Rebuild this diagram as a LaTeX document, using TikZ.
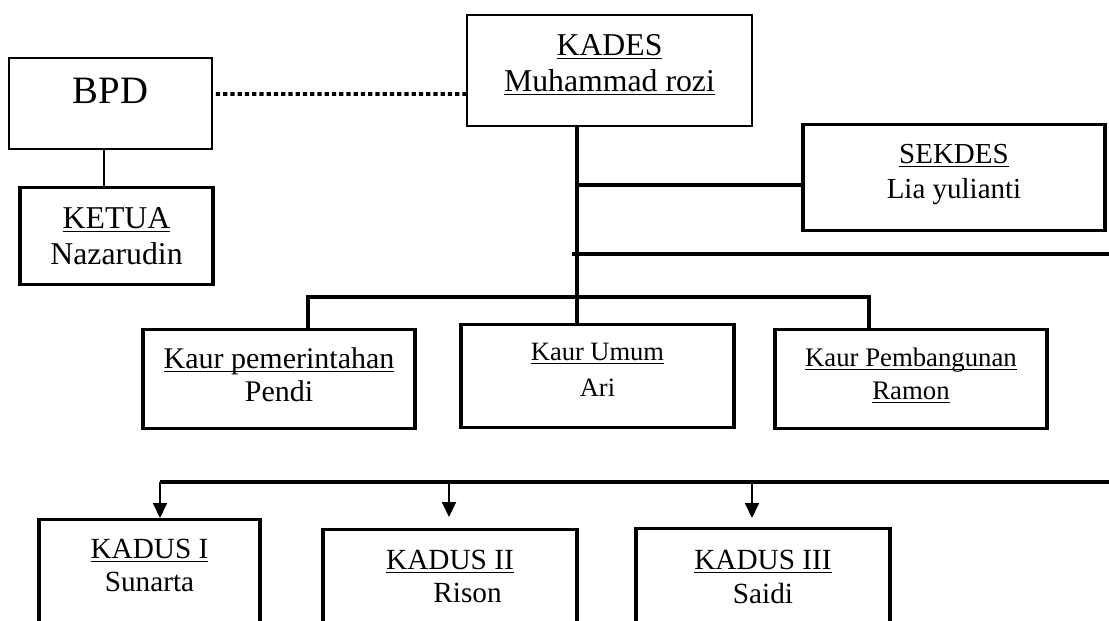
\documentclass[tikz,border=0pt]{standalone}
\usepackage{fontspec}
\setmainfont{Liberation Serif}
\usetikzlibrary{arrows.meta,calc}

\newcommand{\orgul}[1]{\setbox0=\hbox{#1}\rlap{\rule[-1.3pt]{\wd0}{0.45pt}}\box0}
\newcommand{\orgtext}[2]{\begin{tabular}[t]{@{}c@{}}#1\\#2\end{tabular}}

\tikzset{
	box/.style={draw, anchor=north, inner sep=0pt, line width=1.3pt},
	thinbox/.style={box, line width=0.7pt},
	trunk/.style={line width=1.7pt},
	link/.style={line width=0.7pt},
	down/.style={line width=0.8pt, -{Triangle[length=6pt,width=5.6pt]}},
	dots/.style={line width=1.5pt, dash pattern=on 1.7pt off 1.2pt}
}

\begin{document}
\begin{tikzpicture}[x=0.4pt,y=-0.4pt]
	\useasboundingbox (0,0) rectangle (1109,621);
	\clip (0,0) rectangle (1109,621);
	% boxes
	\node[thinbox, minimum width=81.2pt, text height=18.4pt, text depth=18pt,
		font={\fontsize{15.5}{18}\selectfont}] (bpd) at (110.5,57) {BPD};
	\node[box, minimum width=77.2pt, text height=16.4pt, text depth=22.4pt,
		font={\fontsize{12.7}{14.4}\selectfont}] (ketua) at (116.5,186)
		{\orgtext{\orgul{KETUA}}{Nazarudin}};
	\node[thinbox, minimum width=114pt, text height=16.4pt, text depth=28pt,
		font={\fontsize{12.7}{14.4}\selectfont}] (kades) at (609.5,14)
		{\orgtext{\orgul{KADES}}{\orgul{Muhammad rozi}}};
	\node[box, minimum width=120.8pt, text height=15.6pt, text depth=26.8pt,
		font={\fontsize{11.6}{14}\selectfont}] (sekdes) at (954,123)
		{\orgtext{\orgul{SEKDES}}{Lia yulianti}};
	\node[box, minimum width=108.8pt, text height=15.6pt, text depth=24pt,
		font={\fontsize{12}{13.2}\selectfont}] (kpem) at (279,328)
		{\orgtext{\orgul{Kaur pemerintahan}}{Pendi}};
	\node[box, minimum width=109.2pt, text height=14.4pt, text depth=26.8pt,
		font={\fontsize{10.6}{14.4}\selectfont}] (kumum) at (597.5,323)
		{\orgtext{\orgul{Kaur Umum}}{Ari}};
	\node[box, minimum width=108.8pt, text height=14.8pt, text depth=24.8pt,
		font={\fontsize{10.7}{13.2}\selectfont}] (kpemb) at (911,328)
		{\orgtext{\orgul{Kaur Pembangunan}}{\orgul{Ramon}}};
	\node[box, minimum width=88.4pt, text height=15.6pt, text depth=40pt,
		font={\fontsize{11.7}{13.2}\selectfont}] (kadus1) at (149.5,518)
		{\orgtext{\orgul{KADUS I}}{Sunarta}};
	\node[box, minimum width=101.6pt, text height=16pt, text depth=36pt,
		font={\fontsize{11.7}{13}\selectfont}] (kadus2) at (450,528)
		{\orgtext{\orgul{KADUS II}}{\hspace*{14pt}Rison}};
	\node[box, minimum width=101.6pt, text height=16.4pt, text depth=36pt,
		font={\fontsize{11.7}{13.6}\selectfont}] (kadus3) at (763,527)
		{\orgtext{\orgul{KADUS III}}{Saidi}};

	% junctions
	\coordinate (tr) at ([xshift=-13pt]kades.south);
	\coordinate (jsek) at (577,185);
	\coordinate (jmid) at (572,254);
	\coordinate (jmidend) at (1112,254);
	\coordinate (kbarl) at (308,297);
	\coordinate (kbarr) at (869,297);
	\coordinate (dbar1) at (160,482);
	\coordinate (dbar2) at (449,482);
	\coordinate (dbar3) at (752,482);
	\coordinate (dbarend) at (1112,482);

	% lines
	\draw[dots] ([shift={(1.2pt,3.8pt)}]bpd.east) -- ($(bpd.east -| kades.west)+(0,-9.5)$);
	\draw[link] ([xshift=-2.6pt]bpd.south) -- ($(bpd.south |- ketua.north)+(-6.5,0)$);
	\draw[trunk] (tr) -- (tr |- kumum.north);
	\draw[trunk] (jsek) -- (jsek -| sekdes.west);
	\draw[trunk] (jmid) -- (jmidend);
	\draw[trunk] (kbarl |- kpem.north) -- (kbarl) -- (kbarr) -- (kbarr |- kpemb.north);
	\draw[trunk] (dbar1) -- (dbarend);
	\draw[down] (dbar1) -- (dbar1 |- kadus1.north);
	\draw[down] (dbar2) -- ($(dbar2 |- kadus2.north)+(0,-11)$);
	\draw[down] (dbar3) -- ($(dbar3 |- kadus3.north)+(0,-9)$);
\end{tikzpicture}
\end{document}
